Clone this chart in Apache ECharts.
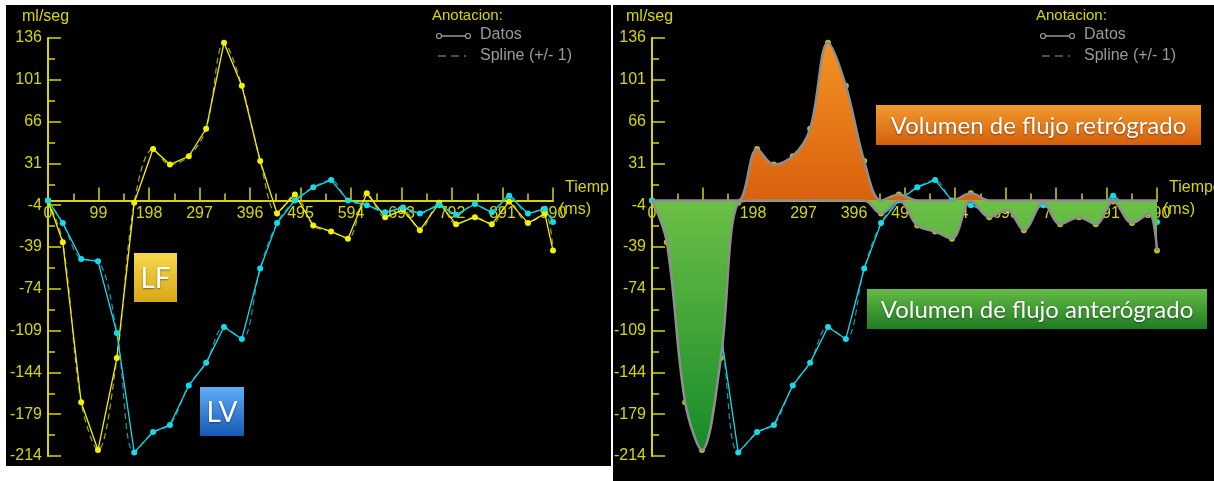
<!DOCTYPE html>
<html>
<head>
<meta charset="utf-8">
<script src="https://cdn.jsdelivr.net/npm/echarts@6/dist/echarts.min.js"></script>
<style>
html, body { margin: 0; padding: 0; background: #fff; }
#main { width: 1214px; height: 481px; }
</style>
</head>
<body>
<div id="main"></div>
<script>
// tiempo (ms) de cada fase
var tiempos = [0, 29, 65, 98, 135, 169, 206, 239, 276, 310, 345, 380, 416, 449, 484,
               520, 555, 588, 625, 661, 696, 729, 767, 800, 837, 870, 904, 941, 974, 990];
// flujo LF (ml/seg)
var flujoLF = [0, -35, -169, -209, -132, -2, 43, 30, 37, 60, 132, 96, 33, -11, 5,
               -21, -26, -32, 6, -14, -8, -25, -2, -20, -14, -20, -1, -19, -11, -42];
// flujo LV (ml/seg)
var flujoLV = [0, -19, -49, -51, -111, -211, -194, -188, -155, -136, -106, -116, -57, -19, 0,
               11, 17, 0, -4, -10, -6, -11, -4, -12, -3, -10, 4, -11, -7, -18];
var ticksY = [136, 101, 66, 31, -4, -39, -74, -109, -144, -179, -214];
var ticksX = [0, 99, 198, 297, 396, 495, 594, 693, 792, 891, 990];

var amarillo = '#d6d600';
var altoGrid = 418;
var yMin = ticksY[ticksY.length - 1], yMax = ticksY[0];
var menores = ticksY.slice(1).map(function (v, i) { return (v + ticksY[i]) / 2; });
var myChart = echarts.init(document.getElementById('main'));

function pares(valores) {
    return tiempos.map(function (t, i) { return [t, valores[i]]; });
}
var positivo = tiempos.map(function (t, i) { return [t, Math.max(flujoLF[i], 0)]; });
var negativo = tiempos.map(function (t, i) { return [t, Math.min(flujoLF[i], 0)]; });

function ejeX(g) {
    return {
        gridIndex: g, type: 'value', position: 'bottom',
        // el eje de tiempo pasa por 0 ml/seg
        offset: -altoGrid * (0 - yMin) / (yMax - yMin),
        min: ticksX[0], max: ticksX[ticksX.length - 1], interval: ticksX[1] - ticksX[0],
        axisLine: { onZero: false, lineStyle: { color: amarillo, width: 2 } },
        axisTick: { inside: true, length: 13, lineStyle: { color: amarillo, width: 1.5 } },
        minorTick: { show: true, splitNumber: 2, length: 7, lineStyle: { color: amarillo, width: 1.5 } },
        axisLabel: { color: amarillo, fontSize: 16, fontFamily: 'Liberation Sans', margin: 5 },
        splitLine: { show: false }
    };
}
function ejeY(g) {
    return {
        gridIndex: g, type: 'value', position: 'left', min: yMin, max: yMax,
        axisLine: { show: true, onZero: false, lineStyle: { color: amarillo, width: 2 } },
        axisTick: { show: true, inside: true, length: 13, customValues: ticksY, lineStyle: { color: amarillo, width: 1.5 } },
        axisLabel: { customValues: ticksY, color: amarillo, fontSize: 16, fontFamily: 'Liberation Sans', margin: 6 },
        splitLine: { show: false }
    };
}
function ejeYMenor(g) {
    return {
        gridIndex: g, type: 'value', position: 'left', min: yMin, max: yMax,
        axisLine: { show: false, onZero: false },
        axisTick: { show: true, inside: true, length: 7, customValues: menores, lineStyle: { color: amarillo, width: 1.5 } },
        axisLabel: { show: false },
        splitLine: { show: false }
    };
}
function spline(g, valores, color) {
    return {
        type: 'line', xAxisIndex: g, yAxisIndex: g, data: pares(valores),
        smooth: 0.35, symbol: 'none', silent: true,
        lineStyle: { color: color, width: 1.2, type: [6, 4] }
    };
}
function datos(g, valores, color) {
    return {
        type: 'line', xAxisIndex: g, yAxisIndex: g, data: pares(valores),
        symbol: 'circle', symbolSize: 6, itemStyle: { color: color },
        lineStyle: { color: color, width: 1.3 }
    };
}
function area(datosArea, c1, c2) {
    return {
        type: 'line', xAxisIndex: 1, yAxisIndex: 1, data: datosArea, z: 4,
        smooth: 0.35, symbol: 'none',
        lineStyle: { color: '#8e8e8e', width: 2.5 },
        areaStyle: {
            opacity: 1,
            color: new echarts.graphic.LinearGradient(0, 0, 0, 1, [
                { offset: 0, color: c1 }, { offset: 1, color: c2 }
            ])
        }
    };
}

function texto(x, y, t, color, font, align) {
    return {
        type: 'text', x: x, y: y, z: 100,
        style: { text: t, fill: color, font: font, textAlign: align || 'left', textVerticalAlign: 'middle' }
    };
}
function anotacion(dx) {
    return [
        texto(22 + dx, 17, 'ml/seg', amarillo, '16px "Liberation Sans"'),
        texto(432 + dx, 16, 'Anotacion:', amarillo, '15px "Liberation Sans"'),
        texto(480 + dx, 35, 'Datos', '#9a9a9a', '16px "Liberation Sans"'),
        texto(480 + dx, 56, 'Spline (+/- 1)', '#9a9a9a', '16px "Liberation Sans"'),
        { type: 'line', z: 100, shape: { x1: 439 + dx, y1: 36, x2: 468 + dx, y2: 36 }, style: { stroke: '#9a9a9a', lineWidth: 1.5 } },
        { type: 'circle', z: 100, shape: { cx: 439 + dx, cy: 36, r: 2.5 }, style: { stroke: '#9a9a9a', fill: '#000', lineWidth: 1.2 } },
        { type: 'circle', z: 100, shape: { cx: 468 + dx, cy: 36, r: 2.5 }, style: { stroke: '#9a9a9a', fill: '#000', lineWidth: 1.2 } },
        { type: 'line', z: 100, shape: { x1: 438 + dx, y1: 56, x2: 466 + dx, y2: 56 }, style: { stroke: '#9a9a9a', lineWidth: 1.2, lineDash: [8, 5] } },
        texto(565 + dx, 188, dx ? 'Tiempo' : 'Tiemp', amarillo, '16px "Liberation Sans"'),
        texto(559 + dx, 210, '(ms)', amarillo, '16px "Liberation Sans"')
    ];
}
function caja(x, y, w, h, c1, c2, t, font) {
    return [
        {
            type: 'rect', z: 100, shape: { x: x, y: y, width: w, height: h },
            style: {
                fill: new echarts.graphic.LinearGradient(0, 0, 0, 1, [
                    { offset: 0, color: c1 }, { offset: 1, color: c2 }
                ])
            }
        },
        {
            type: 'text', z: 101, x: x + w / 2, y: y + h / 2 + 1,
            style: {
                text: t, fill: '#fff', font: font, textAlign: 'center', textVerticalAlign: 'middle',
                textShadowColor: 'rgba(0,0,0,0.45)', textShadowBlur: 2, textShadowOffsetY: 1
            }
        }
    ];
}

var elementos = [
    { type: 'rect', z: -10, shape: { x: 6, y: 5, width: 605, height: 461 }, style: { fill: '#000' } },
    { type: 'rect', z: -10, shape: { x: 613, y: 5, width: 601, height: 476 }, style: { fill: '#000' } }
].concat(anotacion(0), anotacion(604),
    caja(134, 253, 43, 49, '#f7d84a', '#d9a616', 'LF', '28px Lato'),
    caja(200, 387, 44, 49, '#5eaef6', '#1659b5', 'LV', '28px Lato'),
    caja(876, 105, 325, 40, '#f29a2c', '#d65f0d', 'Volumen de flujo retrógrado', '24px Lato'),
    caja(867, 289, 340, 40, '#64ba45', '#1f7d22', 'Volumen de flujo anterógrado', '24px Lato'));

option = {
    backgroundColor: '#fff',
    animation: false,
    grid: [
        { left: 48, top: 38, width: 505, height: altoGrid },
        { left: 652, top: 38, width: 505, height: altoGrid }
    ],
    xAxis: [ejeX(0), ejeX(1)],
    yAxis: [ejeY(0), ejeY(1), ejeYMenor(0), ejeYMenor(1)],
    graphic: { elements: elementos },
    series: [
        spline(0, flujoLF, '#a8a800'),
        spline(0, flujoLV, '#00a0b0'),
        datos(0, flujoLF, '#f2f200'),
        datos(0, flujoLV, '#10dced'),
        spline(1, flujoLV, '#00a0b0'),
        datos(1, flujoLV, '#10dced'),
        {
            type: 'scatter', xAxisIndex: 1, yAxisIndex: 1, data: pares(flujoLF),
            symbolSize: 6, itemStyle: { color: '#f2f200' }
        },
        area(positivo, '#f39222', '#d9610e'),
        area(negativo, '#6cc046', '#178a2a')
    ]
};

myChart.setOption(option);
</script>
</body>
</html>
